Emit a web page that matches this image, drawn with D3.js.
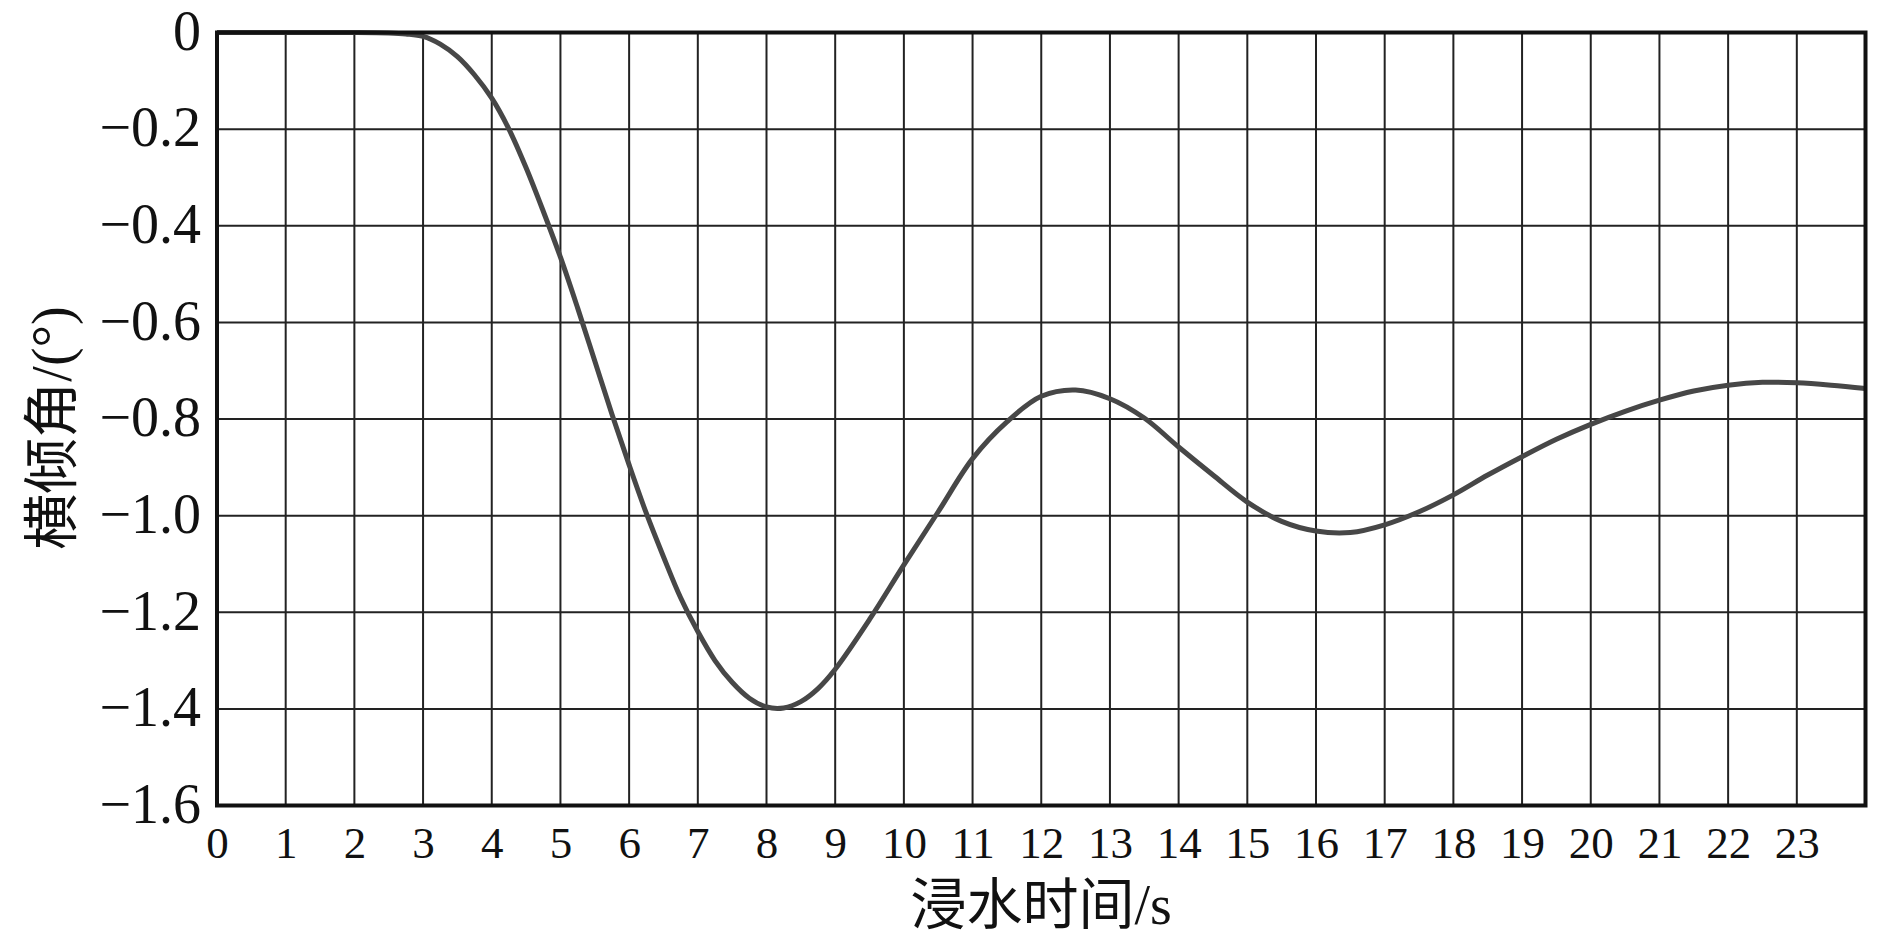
<!DOCTYPE html>
<html>
<head>
<meta charset="utf-8">
<script src="https://cdn.jsdelivr.net/npm/d3@7"></script>
<style>
  html, body { margin: 0; padding: 0; background: #fff; }
  svg { display: block; }
  text { font-family: "Liberation Serif", "Noto Sans CJK SC", serif; fill: #111; }
</style>
</head>
<body>
<svg id="chart" width="1890" height="942"></svg>
<script>
// ---- data ----
const times = [0,0.5,1,1.5,2,2.5,2.75,3,3.25,3.5,3.75,4,4.25,4.5,4.75,5,5.25,5.5,5.75,6,6.25,6.5,6.75,7,7.25,7.5,7.75,8,8.25,8.5,8.75,9,9.5,10,10.5,11,11.5,12,12.5,13,13.5,14,14.5,15,15.5,16,16.5,17,17.5,18,18.5,19,19.5,20,20.5,21,21.5,22,22.5,23,23.5,24];
const heelAngle = [0,0,0,0,0,-0.001,-0.003,-0.008,-0.024,-0.05,-0.088,-0.136,-0.2,-0.28,-0.37,-0.465,-0.57,-0.68,-0.79,-0.895,-0.995,-1.085,-1.17,-1.24,-1.30,-1.345,-1.378,-1.396,-1.398,-1.385,-1.358,-1.318,-1.215,-1.102,-0.992,-0.882,-0.806,-0.753,-0.740,-0.758,-0.798,-0.858,-0.916,-0.972,-1.012,-1.032,-1.035,-1.019,-0.992,-0.957,-0.916,-0.878,-0.842,-0.811,-0.784,-0.761,-0.742,-0.730,-0.724,-0.725,-0.730,-0.737];
const xTicks = [0,1,2,3,4,5,6,7,8,9,10,11,12,13,14,15,16,17,18,19,20,21,22,23];
const yTicks = [0,-0.2,-0.4,-0.6,-0.8,-1.0,-1.2,-1.4,-1.6];
const yTickLabels = ["0","\u22120.2","\u22120.4","\u22120.6","\u22120.8","\u22121.0","\u22121.2","\u22121.4","\u22121.6"];
const xTitle = "浸水时间/s";
const yTitle = "横倾角/(°)";

// ---- layout ----
const L = 217, R = 1865.5, T = 32.5, B = 805.5;
const svg = d3.select("#chart");
const x = d3.scaleLinear().domain([0, 24]).range([L, R]);
const y = d3.scaleLinear().domain([-1.6, 0]).range([B, T]);

// grid
const grid = svg.append("g").attr("stroke", "#222").attr("stroke-width", 2);
grid.selectAll("line.v").data(xTicks.filter(d => d > 0)).enter().append("line")
  .attr("x1", d => x(d)).attr("x2", d => x(d)).attr("y1", T).attr("y2", B);
grid.selectAll("line.h").data(yTicks.filter(d => d < 0 && d > -1.6)).enter().append("line")
  .attr("y1", d => y(d)).attr("y2", d => y(d)).attr("x1", L).attr("x2", R);

// curve
const pts = times.map((t, i) => [t, heelAngle[i]]);
const line = d3.line().x(d => x(d[0])).y(d => y(d[1])).curve(d3.curveCatmullRom.alpha(0.5));
svg.append("path").datum(pts).attr("d", line)
  .attr("fill", "none").attr("stroke", "#474747").attr("stroke-width", 5)
  .attr("stroke-linejoin", "round");

// frame
svg.append("rect").attr("x", L).attr("y", T).attr("width", R - L).attr("height", B - T)
  .attr("fill", "none").attr("stroke", "#111").attr("stroke-width", 4);

// x tick labels
const xAxis = d3.axisBottom(x).tickValues(xTicks).tickSize(0).tickPadding(0).tickFormat(d3.format("d"));
const gx = svg.append("g").attr("transform", `translate(0,${B})`).call(xAxis);
gx.select(".domain").remove();
gx.selectAll("text").attr("y", 52).attr("dy", null)
  .style("font-size", "45px").style("font-family", "'Liberation Serif', serif").attr("fill", "#111");

// y tick labels
const yAxis = d3.axisLeft(y).tickValues(yTicks).tickSize(0).tickPadding(0).tickFormat((d, i) => yTickLabels[i]);
const gy = svg.append("g").attr("transform", `translate(${L},0)`).call(yAxis);
gy.select(".domain").remove();
gy.selectAll("text").attr("x", -16).attr("dy", "0.30em")
  .style("font-size", "56px").style("font-family", "'Liberation Serif', serif").attr("fill", "#111");

// axis titles
svg.append("text").attr("x", (L + R) / 2).attr("y", 924).attr("text-anchor", "middle")
  .style("font-size", "56px").text(xTitle);
svg.append("text").attr("transform", `translate(71,428) rotate(-90)`).attr("text-anchor", "middle")
  .style("font-size", "56px").text(yTitle);
</script>
</body>
</html>
